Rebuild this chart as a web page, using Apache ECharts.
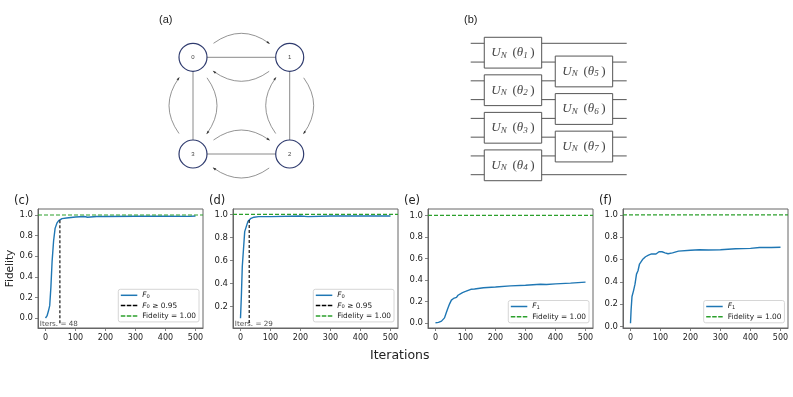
<!DOCTYPE html>
<html><head><meta charset="utf-8">
<style>html,body{margin:0;padding:0;background:#fff}#c{width:793px;height:397px}</style>
<script src="https://cdn.jsdelivr.net/npm/echarts@6/dist/echarts.min.js"></script>
</head><body><div id="c"></div>
<script>
// ---- data ----
const itersC = [0,5,10,14,18,22,27,32,38,44,48,55,70,100,130,140,170,200,300,400,480,500];
const fidC   = [0,0.02,0.07,0.12,0.3,0.55,0.75,0.87,0.92,0.945,0.95,0.965,0.97,0.98,0.985,0.978,0.985,0.985,0.988,0.988,0.986,0.99];
const itersD = [0,3,6,10,14,20,25,29,35,45,60,100,200,225,300,400,500];
const fidD   = [0.1,0.3,0.55,0.7,0.85,0.9,0.94,0.95,0.965,0.975,0.98,0.98,0.985,0.98,0.985,0.985,0.985];
const itersE = [0,10,20,30,35,40,47,53,60,70,75,90,100,118,130,160,200,250,300,350,370,400,450,500];
const fidE   = [0.005,0.008,0.02,0.05,0.09,0.13,0.18,0.215,0.23,0.24,0.26,0.285,0.295,0.315,0.318,0.33,0.337,0.347,0.352,0.362,0.36,0.365,0.372,0.382];
const itersF = [0,2,5,10,15,20,25,30,40,50,60,70,85,95,105,115,125,140,160,200,230,260,300,350,400,430,470,500];
const fidF   = [0.03,0.15,0.27,0.32,0.38,0.47,0.5,0.56,0.6,0.625,0.64,0.65,0.65,0.67,0.67,0.66,0.652,0.66,0.675,0.683,0.687,0.685,0.688,0.697,0.7,0.708,0.708,0.71];
const thresholdIterC = 48, thresholdIterD = 29, thresholdFid = 0.95;
const thresholdFloorC = -0.05, thresholdFloorD = 0.06;
const xTicks = [0,100,200,300,400,500];
const yTicksC = [0,0.2,0.4,0.6,0.8,1.0];
const yTicksD = [0.2,0.4,0.6,0.8,1.0];
const panelLabels = ['(a)','(b)','(c)','(d)','(e)','(f)'];
const nodeLabels = ['0','1','2','3'];
const nodeCells = [[0,0],[1,0],[1,1],[0,1]];
const edges = [[0,1],[1,2],[2,3],[3,0]];
const arrows = [[0,1],[1,0],[3,0],[0,3],[2,1],[1,2],[3,2],[2,3]];
const wires = [0,1,2,3,4,5,6,7];
const gates = [[0,0,1,'1'],[0,2,3,'2'],[0,4,5,'3'],[0,6,7,'4'],[1,1,2,'5'],[1,3,4,'6'],[1,5,6,'7']];

// ---- styling ----
const BLUE='#1f77b4', GREEN='#2ca02c', AX='#666', TXT='#222';
const N_F0='F0', N_TH='F0 >= 0.95', N_F1='F1', N_G='Fidelity = 1.00';
const ICON_SOLID='path://M0 0H33V3H0Z';
const ICON_DASH='path://M0 0H9V3H0ZM12 0H21V3H12ZM24 0H33V3H24Z';
const zip=(a,b)=>a.map((v,i)=>[v,b[i]]);
const panels=[
 {l:38,ymin:-0.097,ymax:1.058,ticks:yTicksC,x:itersC,y:fidC,name:N_F0,th:thresholdIterC,fl:thresholdFloorC,lg:{left:118.3,h3:true},txt:'Iters. = 48'},
 {l:233,ymin:0.016,ymax:1.046,ticks:yTicksD,x:itersD,y:fidD,name:N_F0,th:thresholdIterD,fl:thresholdFloorD,lg:{left:313.3,h3:true},txt:'Iters. = 29'},
 {l:428,ymin:-0.044,ymax:1.06,ticks:yTicksC,x:itersE,y:fidE,name:N_F1,lg:{left:508.3}},
 {l:623,ymin:-0.012,ymax:1.052,ticks:yTicksC,x:itersF,y:fidF,name:N_F1,lg:{left:703.7}}
];
const grids=[],xAxes=[],yAxes=[],series=[],legends=[];
panels.forEach((p,i)=>{
  grids.push({show:true,borderColor:AX,borderWidth:1,backgroundColor:'transparent',left:p.l,top:209,width:165,height:119});
  const axLine={show:true,onZero:false,lineStyle:{color:AX,width:1}};
  xAxes.push({gridIndex:i,type:'value',min:-25,max:525,axisLine:axLine,splitLine:{show:false},
    axisTick:{show:true,length:3,lineStyle:{color:AX,width:0.8},customValues:xTicks},
    axisLabel:{color:TXT,fontFamily:'DejaVu Sans',fontSize:8,margin:5.5,customValues:xTicks,formatter:v=>String(v)}});
  const y={gridIndex:i,type:'value',min:p.ymin,max:p.ymax,axisLine:axLine,splitLine:{show:false},
    axisTick:{show:true,length:3,lineStyle:{color:AX,width:0.8},customValues:p.ticks},
    axisLabel:{color:TXT,fontFamily:'DejaVu Sans',fontSize:8.5,margin:5,customValues:p.ticks,formatter:v=>v.toFixed(1)}};
  if(i===0){Object.assign(y,{name:'Fidelity',nameLocation:'middle',nameGap:21,nameRotate:90,
    nameTextStyle:{color:TXT,fontFamily:'DejaVu Sans',fontSize:10.5}});}
  yAxes.push(y);
  const base={type:'line',xAxisIndex:i,yAxisIndex:i,symbol:'none',silent:true,animation:false};
  series.push({...base,name:p.name,data:zip(p.x,p.y),lineStyle:{color:BLUE,width:1.4},itemStyle:{color:BLUE},z:3});
  const names=[{name:p.name,icon:ICON_SOLID}];
  if(p.th!==undefined){
    series.push({...base,name:N_TH,data:[[p.th,p.fl],[p.th,thresholdFid]],lineStyle:{color:'#000',width:1.1,type:[3,2]},itemStyle:{color:'#000'},z:4});
    names.push({name:N_TH,icon:ICON_DASH});
    series.push({type:'scatter',xAxisIndex:i,yAxisIndex:i,silent:true,symbolSize:0,animation:false,z:6,
      data:[[-19,p.ymin]],label:{show:true,position:'insideBottomLeft',formatter:p.txt,distance:0,offset:[0,-0.5],
        color:TXT,fontFamily:'DejaVu Sans',fontSize:7.2}});
  }
  series.push({...base,name:N_G,data:[[-25,1],[525,1]],lineStyle:{color:GREEN,width:1.2,type:[4,2]},itemStyle:{color:GREEN},z:5});
  names.push({name:N_G,icon:ICON_DASH});
  const h=p.lg.h3;
  legends.push({show:true,data:names,left:p.lg.left,top:h?289.3:300.5,orient:'vertical',selectedMode:false,
    itemWidth:16.5,itemHeight:1.5,itemGap:2.8,padding:[2.5,3,2.5,2.5],borderColor:'#ccc',borderWidth:0.8,borderRadius:2,
    backgroundColor:'rgba(255,255,255,0.85)',
    textStyle:{color:TXT,fontFamily:'DejaVu Sans',fontSize:7.4,
      rich:{i:{fontStyle:'italic',fontFamily:'DejaVu Sans',fontSize:7.4,color:TXT},
            s:{fontSize:5.2,fontFamily:'DejaVu Sans',color:TXT,padding:[3,0,0,0]},
            t:{fontFamily:'DejaVu Sans',fontSize:7.4,color:TXT}}},
    formatter:n=>n===N_F0?'{i|F}{s|0}':n===N_F1?'{i|F}{s|1}':n===N_TH?'{i|F}{s|0}{t| \u2265 0.95}':n});
});

// hidden grids for the two diagrams
const aIdx=grids.length;
grids.push({left:193,top:57.3,width:96.7,height:96.7});
xAxes.push({gridIndex:aIdx,type:'value',min:0,max:1,show:false});
yAxes.push({gridIndex:aIdx,type:'value',min:0,max:1,inverse:true,show:false});
const bIdx=grids.length;
grids.push({left:470.7,top:43.3,width:156,height:131.4});
xAxes.push({gridIndex:bIdx,type:'value',min:0,max:1,show:false});
yAxes.push({gridIndex:bIdx,type:'value',min:0,max:7,inverse:true,show:false});

const custom=(idx,data,render,z)=>({type:'custom',xAxisIndex:idx,yAxisIndex:idx,data,renderItem:render,silent:true,animation:false,clip:false,z});
series.push(custom(aIdx,edges,(pa,api)=>{
  const e=edges[pa.dataIndex],A=api.coord(nodeCells[e[0]]),B=api.coord(nodeCells[e[1]]);
  return {type:'line',shape:{x1:A[0],y1:A[1],x2:B[0],y2:B[1]},style:{stroke:'#8a8a8a',lineWidth:1}};
},1));
series.push(custom(aIdx,nodeLabels,(pa,api)=>{
  const c=api.coord(nodeCells[pa.dataIndex]);
  return {type:'circle',shape:{cx:c[0],cy:c[1],r:14},style:{fill:'#fff',stroke:'#2f3b6e',lineWidth:1.2},
    textContent:{style:{text:nodeLabels[pa.dataIndex],fontSize:6,fontFamily:'Liberation Sans',fill:'#444'}},textConfig:{position:'inside'}};
},2));
series.push(custom(aIdx,arrows,(pa,api)=>{
  const a=arrows[pa.dataIndex],A=api.coord(nodeCells[a[0]]),B=api.coord(nodeCells[a[1]]);
  const dx=B[0]-A[0],dy=B[1]-A[1],L=Math.hypot(dx,dy),ux=dx/L,uy=dy/L,nx=uy,ny=-ux;
  const off=14,bulge=34,t0=20.5,t1=L-20.5;
  const S=[A[0]+ux*t0+nx*off,A[1]+uy*t0+ny*off],E=[A[0]+ux*t1+nx*off,A[1]+uy*t1+ny*off];
  const C=[A[0]+ux*L/2+nx*bulge,A[1]+uy*L/2+ny*bulge];
  let tx=E[0]-C[0],ty=E[1]-C[1];const tl=Math.hypot(tx,ty);tx/=tl;ty/=tl;
  const h=2.6,w=1.1;
  return {type:'group',children:[
    {type:'bezierCurve',shape:{x1:S[0],y1:S[1],x2:E[0],y2:E[1],cpx1:C[0],cpy1:C[1]},style:{stroke:'#666',lineWidth:0.7,fill:null}},
    {type:'polygon',shape:{points:[[E[0]+tx,E[1]+ty],[E[0]-tx*h-ty*w,E[1]-ty*h+tx*w],[E[0]-tx*h+ty*w,E[1]-ty*h-tx*w]]},style:{fill:'#333'}}
  ]};
},3));
series.push(custom(bIdx,wires,(pa,api)=>{
  const y=wires[pa.dataIndex],A=api.coord([0,y]),B=api.coord([1,y]);
  return {type:'line',shape:{x1:A[0],y1:A[1],x2:B[0],y2:B[1]},style:{stroke:'#555',lineWidth:1}};
},1));
const layerCentre=[0.271,0.726], gateWidth=0.368, gatePad=0.32;
const mathRich={u:{fontFamily:'Liberation Serif',fontStyle:'italic',fontSize:13,fill:'#444'},
  s:{fontFamily:'Liberation Serif',fontStyle:'italic',fontSize:9,fill:'#444',padding:[5,0,0,0]},
  r:{fontFamily:'Liberation Serif',fontSize:13,fill:'#444'}};
series.push(custom(bIdx,gates,(pa,api)=>{
  const g=gates[pa.dataIndex];
  const A=api.coord([layerCentre[g[0]]-gateWidth/2,g[1]-gatePad]),B=api.coord([layerCentre[g[0]]+gateWidth/2,g[2]+gatePad]);
  return {type:'rect',shape:{x:A[0],y:A[1],width:B[0]-A[0],height:B[1]-A[1]},style:{fill:'#fff',stroke:'#555',lineWidth:1},
    textContent:{style:{text:`{u|U}{s|N}{r|\u2009 (}{u|\u03b8}{s|${g[3]}}{r|\u2009)}`,rich:mathRich,align:'center',verticalAlign:'middle'}},
    textConfig:{position:'inside'}};
},2));

const lab=(text,left,top)=>({text,left,top,padding:0,textStyle:{fontFamily:'DejaVu Sans',fontWeight:'normal',fontSize:11.5,color:TXT}});
const lab2=(text,left,top,fs)=>({text,left,top,padding:0,textStyle:{fontFamily:'Liberation Sans',fontWeight:'normal',fontSize:fs,color:TXT}});
const titles=[
  lab2(panelLabels[0],159,14.5,11),lab2(panelLabels[1],464,14.5,11),
  lab(panelLabels[2],14,195.5),lab(panelLabels[3],209,195.5),lab(panelLabels[4],404,195.5),lab(panelLabels[5],599,195.5),
  {text:'Iterations',left:370,top:349,padding:0,textStyle:{fontFamily:'DejaVu Sans',fontWeight:'normal',fontSize:12.5,color:TXT}}
];
const chart=echarts.init(document.getElementById('c'),null,{renderer:'canvas'});
chart.setOption({animation:false,backgroundColor:'#fff',title:titles,legend:legends,tooltip:{show:false},grid:grids,xAxis:xAxes,yAxis:yAxes,series});
</script></body></html>
